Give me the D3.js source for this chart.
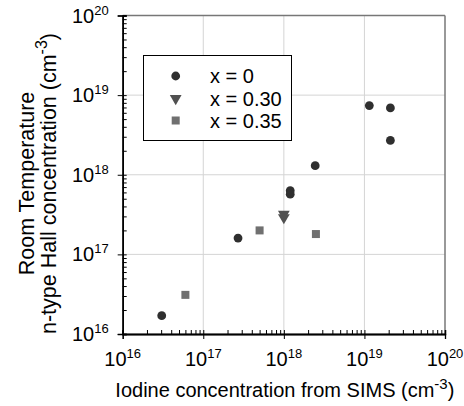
<!DOCTYPE html>
<html lang="en">
<head>
    <meta charset="UTF-8">
    <title>Hall concentration vs Iodine concentration</title>
    <style>
        body { margin: 0; background: #fff; }
        text { font-family: Arial, "Liberation Sans", sans-serif; fill: #000; }
        .grid line { stroke: #d4d4d4; stroke-width: 1; }
    </style>
</head>
<body>
    <svg width="464" height="406"></svg>

    <script src="https://d3js.org/d3.v7.min.js"></script>
    <script>
        // Data
        const circX = [1.15e19, 2.1e19, 2.1e19, 2.45e18, 1.2e18, 1.2e18, 2.7e17, 3.05e16];
        const circY = [7.4e18, 6.9e18, 2.7e18, 1.3e18, 6.3e17, 5.7e17, 1.6e17, 1.7e16];
        const triX = [1.0e18, 1.0e18];
        const triY = [3.2e17, 2.9e17];
        const sqX = [5.0e17, 2.5e18, 6.0e16];
        const sqY = [2.0e17, 1.8e17, 3.1e16];
        const legendLabels = ['x = 0', 'x = 0.30', 'x = 0.35'];
        const decades = [16, 17, 18, 19, 20];

        const pLeft = 122.7, pRight = 445, pTop = 15.5, pBottom = 334;

        const svg = d3.select('svg');

        const x = d3.scaleLog().domain([1e16, 1e20]).range([pLeft, pRight]);
        const y = d3.scaleLog().domain([1e16, 1e20]).range([pBottom, pTop]);

        const majors = decades.map(d => Math.pow(10, d));
        const minors = [];
        decades.slice(0, -1).forEach(d => {
            for (let k = 2; k <= 9; k++) minors.push(k * Math.pow(10, d));
        });

        // grid lines
        const grid = svg.append('g').attr('class', 'grid');
        grid.selectAll('.gx').data(majors.slice(1, -1)).enter().append('line')
            .attr('x1', d => x(d)).attr('x2', d => x(d))
            .attr('y1', pTop).attr('y2', pBottom);
        grid.selectAll('.gy').data(majors.slice(1, -1)).enter().append('line')
            .attr('y1', d => y(d)).attr('y2', d => y(d))
            .attr('x1', pLeft).attr('x2', pRight);

        // frame top / right
        svg.append('line').attr('x1', pLeft).attr('x2', pRight).attr('y1', pTop).attr('y2', pTop)
            .attr('stroke', '#777').attr('stroke-width', 1.5);
        svg.append('line').attr('x1', pRight).attr('x2', pRight).attr('y1', pTop).attr('y2', pBottom)
            .attr('stroke', '#777').attr('stroke-width', 1.5);

        // x axis: minor ticks inward, major ticks crossing
        svg.append('g').attr('transform', `translate(0,${pBottom})`)
            .call(d3.axisTop(x).tickValues(minors).tickSize(4).tickFormat(''));
        svg.append('g').attr('transform', `translate(0,${pBottom})`)
            .call(d3.axisBottom(x).tickValues(majors).tickSize(5).tickFormat(''));
        svg.append('g').attr('transform', `translate(0,${pBottom})`)
            .call(d3.axisTop(x).tickValues(majors).tickSize(4).tickFormat(''));

        // y axis
        svg.append('g').attr('transform', `translate(${pLeft},0)`)
            .call(d3.axisRight(y).tickValues(minors).tickSize(4).tickFormat(''));
        svg.append('g').attr('transform', `translate(${pLeft},0)`)
            .call(d3.axisLeft(y).tickValues(majors).tickSize(5).tickFormat(''));
        svg.append('g').attr('transform', `translate(${pLeft},0)`)
            .call(d3.axisRight(y).tickValues(majors).tickSize(4).tickFormat(''));

        svg.selectAll('.domain').attr('stroke', '#000').attr('stroke-width', 1.3);
        svg.selectAll('.tick line').attr('stroke', '#000');

        // tick labels (powers of ten)
        const xl = svg.selectAll('.xl').data(decades).enter().append('text')
            .attr('x', d => x(Math.pow(10, d)))
            .attr('y', pBottom + 32)
            .attr('text-anchor', 'middle')
            .style('font-size', '20px');
        xl.append('tspan').text('10');
        xl.append('tspan').attr('dy', -8).style('font-size', '13px').text(d => d);

        const yl = svg.selectAll('.yl').data(decades).enter().append('text')
            .attr('x', pLeft - 14)
            .attr('y', d => y(Math.pow(10, d)) + 7)
            .attr('text-anchor', 'end')
            .style('font-size', '20px');
        yl.append('tspan').text('10');
        yl.append('tspan').attr('dy', -8).style('font-size', '13px').text(d => d);

        // axis titles
        const xt = svg.append('text')
            .attr('x', (pLeft + pRight) / 2 + 1)
            .attr('y', 397)
            .attr('text-anchor', 'middle')
            .style('font-size', '20px');
        xt.append('tspan').text('Iodine concentration from SIMS (cm');
        xt.append('tspan').attr('dy', -8).style('font-size', '15px').text('-3');
        xt.append('tspan').attr('dy', 8).text(')');

        const yt = svg.append('g').attr('transform', 'translate(0,183.5) rotate(-90)');
        yt.append('text').attr('x', 0).attr('y', 34)
            .attr('text-anchor', 'middle').style('font-size', '21.5px')
            .text('Room Temperature');
        const yt2 = yt.append('text').attr('x', 0).attr('y', 56)
            .attr('text-anchor', 'middle').style('font-size', '21.5px');
        yt2.append('tspan').text('n-type Hall concentration (cm');
        yt2.append('tspan').attr('dy', -9).style('font-size', '16px').text('-3');
        yt2.append('tspan').attr('dy', 9).text(')');

        // markers
        const triPath = d3.symbol().type(d3.symbolTriangle).size(60);
        svg.selectAll('.c').data(circX).enter().append('circle')
            .attr('cx', d => x(d)).attr('cy', (d, i) => y(circY[i]))
            .attr('r', 4.4).attr('fill', '#2f2f2f');
        svg.selectAll('.t').data(triX).enter().append('path')
            .attr('d', triPath)
            .attr('transform', (d, i) => `translate(${x(d)},${y(triY[i])}) rotate(180)`)
            .attr('fill', '#505050');
        svg.selectAll('.s').data(sqX).enter().append('rect')
            .attr('x', d => x(d) - 4).attr('y', (d, i) => y(sqY[i]) - 4)
            .attr('width', 8).attr('height', 8).attr('fill', '#707070');

        // legend
        const lg = svg.append('g');
        lg.append('rect').attr('x', 143.5).attr('y', 55.5).attr('width', 148).attr('height', 85)
            .attr('fill', '#fff').attr('stroke', '#000').attr('stroke-width', 1);
        const rows = [76, 98.5, 120.5];
        lg.append('circle').attr('cx', 175.7).attr('cy', rows[0]).attr('r', 4.4).attr('fill', '#2f2f2f');
        lg.append('path').attr('d', triPath)
            .attr('transform', `translate(175.7,${rows[1]}) rotate(180)`).attr('fill', '#505050');
        lg.append('rect').attr('x', 171.7).attr('y', rows[2] - 4).attr('width', 8).attr('height', 8)
            .attr('fill', '#707070');
        lg.selectAll('.lt').data(legendLabels).enter().append('text')
            .attr('x', 210).attr('y', (d, i) => rows[i] + 7)
            .style('font-size', '20px')
            .text(d => d);
    </script>
</body>
</html>
